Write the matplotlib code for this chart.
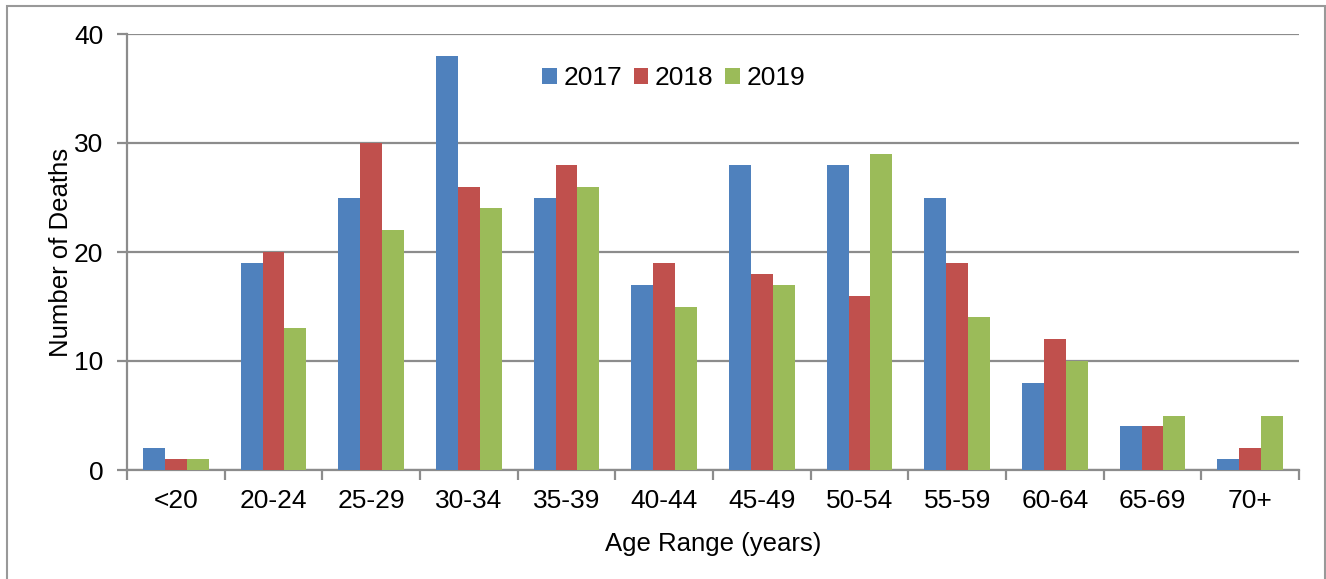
import numpy as np
import matplotlib
matplotlib.use("Agg")
import matplotlib.pyplot as plt
from matplotlib.patches import Rectangle

plt.rcParams['font.family'] = ['Liberation Sans', 'DejaVu Sans']

ages = ["<20", "20-24", "25-29", "30-34", "35-39", "40-44", "45-49",
        "50-54", "55-59", "60-64", "65-69", "70+"]
d2017 = [2, 19, 25, 38, 25, 17, 28, 28, 25, 8, 4, 1]
d2018 = [1, 20, 30, 26, 28, 19, 18, 16, 19, 12, 4, 2]
d2019 = [1, 13, 22, 24, 26, 15, 17, 29, 14, 10, 5, 5]
years = ["2017", "2018", "2019"]
colors = ["#4F81BD", "#C0504D", "#9BBB59"]

W, H = 1326, 579
fig = plt.figure(figsize=(W / 100, H / 100), dpi=100)
# outer frame of the original chart area
fig.patches.append(Rectangle((7 / W, -0.1), (1325 - 7) / W, 1.1 - 6 / H,
                             transform=fig.transFigure, fill=False,
                             edgecolor="#999999", linewidth=1.5))
ax = fig.add_axes([127 / W, 1 - 470 / H, (1299 - 127) / W, (470 - 34) / H])

x = np.arange(len(ages))
bw = 0.225
for i, (vals, lab, c) in enumerate(zip([d2017, d2018, d2019], years, colors)):
    ax.bar(x + (i - 1) * bw, vals, bw, color=c, label=lab, linewidth=0, zorder=3)

ax.set_xlim(-0.5, len(ages) - 0.5)
ax.set_ylim(0, 40)
ax.set_yticks([0, 10, 20, 30, 40])
ax.yaxis.grid(True, color="#8c8c8c", linewidth=1.6, zorder=0)
ax.set_axisbelow(True)
for s in ["top", "right"]:
    ax.spines[s].set_visible(False)
for s in ["left", "bottom"]:
    ax.spines[s].set_color("#8c8c8c")
    ax.spines[s].set_linewidth(1.6)

ax.set_xticks(x)
ax.set_xticklabels(ages, fontsize=19)
ax.tick_params(axis="x", length=0, pad=14)
ax.set_xticks(np.arange(-0.5, len(ages), 1), minor=True)
ax.tick_params(axis="x", which="minor", length=7, width=1.6, color="#8c8c8c")
ax.tick_params(axis="y", length=7, width=1.6, color="#8c8c8c", labelsize=19, pad=10)

ax.set_xlabel("Age Range (years)", fontsize=18.5, labelpad=13)
ax.set_ylabel("Number of Deaths", fontsize=18.5, labelpad=1)

ax.legend(loc="upper center", bbox_to_anchor=(0.4665, 0.98), ncol=3, frameon=False,
          fontsize=19, handlelength=0.55, handleheight=0.55, handletextpad=0.25,
          columnspacing=0.45)

fig.savefig("out.png", dpi=100)
